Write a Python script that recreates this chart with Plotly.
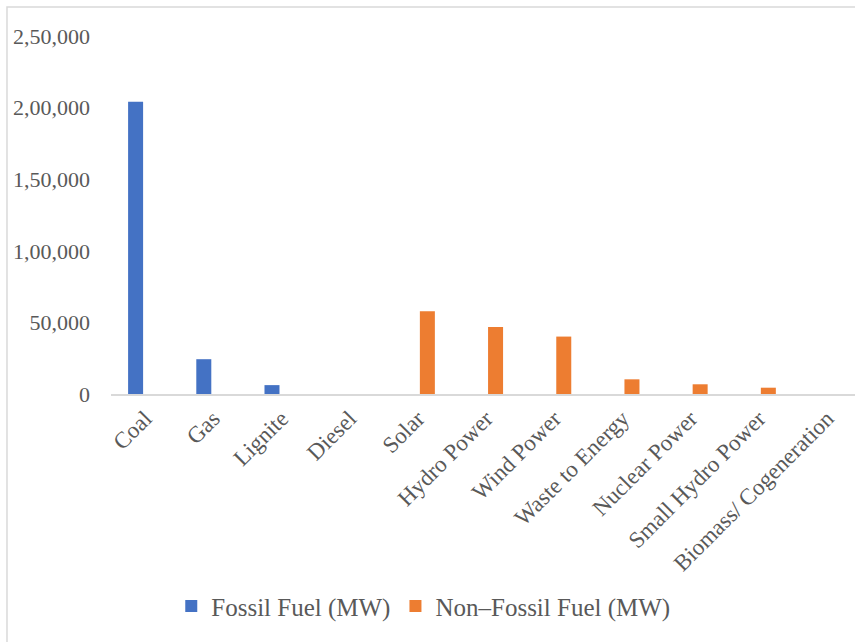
import plotly.graph_objects as go

categories = ["Coal", "Gas", "Lignite", "Diesel", "Solar", "Hydro Power", "Wind Power",
              "Waste to Energy", "Nuclear Power", "Small Hydro Power", "Biomass/ Cogeneration"]
fossil_mw = [204100, 24300, 6200, 0, 0, 0, 0, 0, 0, 0, 0]
non_fossil_mw = [0, 0, 0, 0, 57750, 46800, 40100, 10250, 6780, 4400, 0]
tick_vals = [0, 50000, 100000, 150000, 200000, 250000]
tick_text = ["0", "50,000", "1,00,000", "1,50,000", "2,00,000", "2,50,000"]

FONT = "Liberation Serif"
GREY = "#595959"

fig = go.Figure()
fig.add_trace(go.Bar(x=categories, y=fossil_mw, name="Fossil Fuel (MW)",
                     marker=dict(color="#4472C4", line=dict(width=0))))
fig.add_trace(go.Bar(x=categories, y=non_fossil_mw, name="Non\u2013Fossil Fuel (MW)",
                     marker=dict(color="#ED7D31", line=dict(width=0))))

fig.update_layout(
    width=855, height=642,
    margin=dict(l=111, r=0, t=36, b=248, autoexpand=False),
    paper_bgcolor="white", plot_bgcolor="white",
    barmode="group", bargap=0.443, bargroupgap=0.21,
    font=dict(family=FONT, color=GREY, size=22),
    showlegend=True,
    legend=dict(orientation="h", x=0.081, xanchor="left", y=-0.593, yanchor="middle",
                font=dict(family=FONT, size=25, color=GREY), itemwidth=30,
                traceorder="normal"),
    xaxis=dict(type="category", range=[-0.5, 10.41], tickangle=-45,
               showline=True, linecolor="#d9d9d9", linewidth=2,
               ticks="", tickfont=dict(family=FONT, size=23, color=GREY),
               showgrid=False, zeroline=False, automargin=False),
    yaxis=dict(range=[0, 250000], tickvals=tick_vals, ticktext=tick_text,
               showgrid=False, zeroline=False, showline=False, ticks="",
               ticklabelstandoff=20, automargin=False,
               tickfont=dict(family=FONT, size=22, color=GREY)),
    shapes=[dict(type="rect", xref="paper", yref="paper",
                 x0=-0.1398, x1=1.2, y0=-1.0, y1=1.081,
                 line=dict(color="#d9d9d9", width=1.5), fillcolor="rgba(0,0,0,0)",
                 layer="below")],
)

fig.write_html("out.html", config={"displayModeBar": False},
               post_script="document.body.style.margin='0px';")
